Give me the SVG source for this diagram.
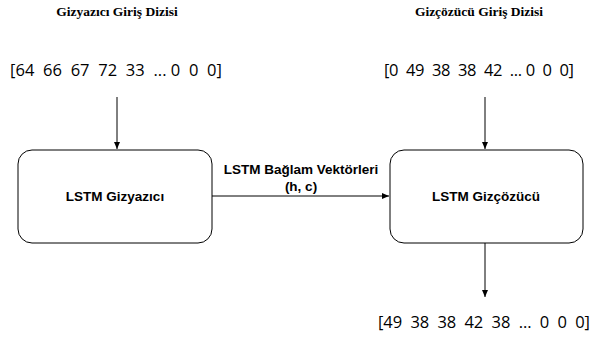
<svg xmlns="http://www.w3.org/2000/svg" width="615" height="338" viewBox="0 0 615 338">
<defs>
<marker id="ah" markerWidth="8" markerHeight="8" refX="7" refY="4" orient="auto" markerUnits="userSpaceOnUse">
<path d="M0,1 L7,4 L0,7 Z" fill="#000"/>
</marker>
<style>
.box{fill:#fff;stroke:#000;stroke-width:1}
.lbl{font-family:"Liberation Sans",Arial,sans-serif;font-weight:bold;font-size:13.5px;fill:#000}
.title{font-family:"Liberation Serif","Times New Roman",serif;font-weight:bold;font-size:13.5px;fill:#000}
.arr{font-family:"Open Sans","Liberation Sans",sans-serif;font-size:16.5px;fill:#000}
.conn{stroke:#000;stroke-width:1;fill:none;marker-end:url(#ah)}
</style>
</defs>
<rect width="615" height="338" fill="#fff"/>
<g id="t1"><text class="title" x="117" y="16" text-anchor="middle">Gizyazıcı Giriş Dizisi</text></g>
<g id="t2"><text class="title" x="479" y="16" text-anchor="middle">Gizçözücü Giriş Dizisi</text></g>
<g id="a1"><text class="arr" x="10" y="76" textLength="212" lengthAdjust="spacing" xml:space="preserve">[64  66  67  72  33  ... 0  0  0]</text></g>
<g id="a2"><text class="arr" x="384" y="76" textLength="190" lengthAdjust="spacing" xml:space="preserve">[0  49  38  38  42  ... 0  0  0]</text></g>
<g id="a3"><text class="arr" x="378" y="328" textLength="212" lengthAdjust="spacing" xml:space="preserve">[49  38  38  42  38  ...  0  0  0]</text></g>
<g id="enc"><rect class="box" x="18" y="150" width="194" height="93" rx="14"/><text class="lbl" x="115" y="201" text-anchor="middle">LSTM Gizyazıcı</text></g>
<g id="dec"><rect class="box" x="390" y="150" width="193" height="93" rx="14"/><text class="lbl" x="486" y="201" text-anchor="middle">LSTM Gizçözücü</text></g>
<g id="connectors">
<line class="conn" x1="117" y1="97" x2="117" y2="149"/>
<line class="conn" x1="485" y1="97" x2="485" y2="149"/>
<line class="conn" x1="212" y1="196" x2="389" y2="196"/>
<line class="conn" x1="485" y1="243" x2="485" y2="297"/>
<text class="lbl" x="301" y="174" text-anchor="middle">LSTM Bağlam Vektörleri</text>
<text class="lbl" x="301" y="191" text-anchor="middle">(h, c)</text>
</g>
</svg>
